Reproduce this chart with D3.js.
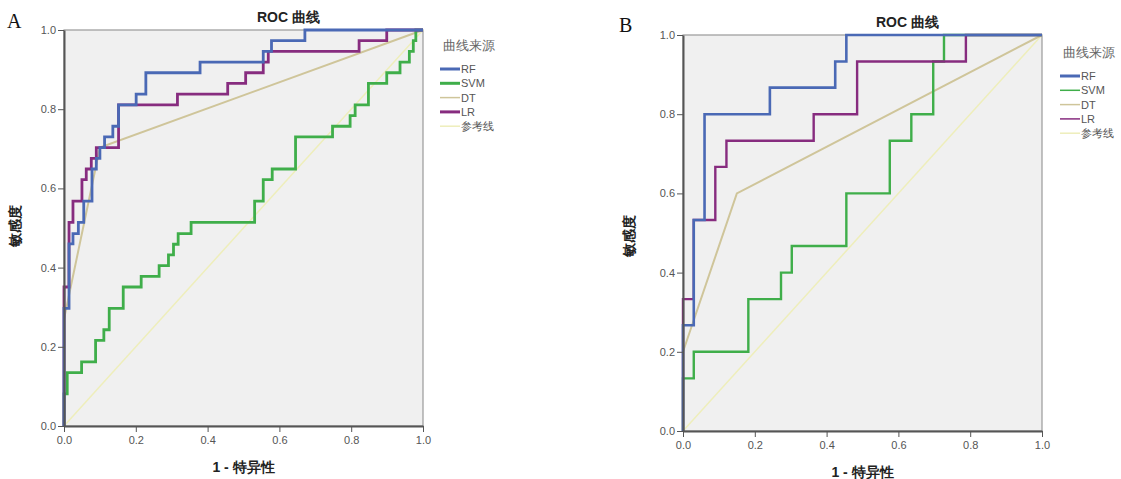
<!DOCTYPE html>
<html>
<head>
<meta charset="utf-8">
<title>ROC 曲线</title>
<style>
  body { margin: 0; background: #fff; }
  svg { display: block; font-family: "Liberation Sans", Arial, sans-serif; }
  .tick text { fill: #555; font-size: 11px; }
  .axis path, .axis line { stroke: #555; }
</style>
</head>
<body>
<script src="https://cdn.jsdelivr.net/npm/d3@7"></script>
<script>
// ROC points (1 - specificity, sensitivity)
// panel A
var a_rf_fpr  = [0, 0, 0.014, 0.025, 0.04, 0.055, 0.078, 0.09, 0.1, 0.113, 0.136, 0.152, 0.201, 0.228, 0.379, 0.555, 0.578, 0.671, 1];
var a_rf_tpr  = [0, 0.297, 0.46, 0.486, 0.514, 0.568, 0.649, 0.676, 0.703, 0.73, 0.757, 0.811, 0.838, 0.892, 0.919, 0.946, 0.973, 1, 1];
var a_svm_fpr = [0, 0, 0.009, 0.049, 0.088, 0.111, 0.126, 0.165, 0.215, 0.265, 0.291, 0.305, 0.318, 0.354, 0.531, 0.555, 0.58, 0.645, 0.748, 0.797, 0.811, 0.848, 0.899, 0.936, 0.962, 0.973, 0.98, 1];
var a_svm_tpr = [0, 0.081, 0.135, 0.162, 0.216, 0.243, 0.297, 0.351, 0.378, 0.405, 0.432, 0.459, 0.486, 0.514, 0.568, 0.622, 0.649, 0.73, 0.757, 0.784, 0.811, 0.865, 0.892, 0.919, 0.946, 0.973, 1, 1];
var a_dt_fpr  = [0, 0, 0.1, 1];
var a_dt_tpr  = [0, 0.27, 0.703, 1];
var a_lr_fpr  = [0, 0, 0.014, 0.025, 0.05, 0.062, 0.076, 0.09, 0.152, 0.316, 0.456, 0.506, 0.555, 0.569, 0.822, 0.899, 1];
var a_lr_tpr  = [0, 0.351, 0.514, 0.568, 0.622, 0.649, 0.676, 0.703, 0.811, 0.838, 0.865, 0.892, 0.919, 0.946, 0.973, 1, 1];

// panel B
var b_rf_fpr  = [0, 0, 0.03, 0.06, 0.242, 0.424, 0.455, 1];
var b_rf_tpr  = [0, 0.267, 0.533, 0.8, 0.867, 0.933, 1, 1];
var b_svm_fpr = [0, 0, 0.03, 0.182, 0.273, 0.303, 0.455, 0.576, 0.636, 0.697, 0.727, 1];
var b_svm_tpr = [0, 0.133, 0.2, 0.333, 0.4, 0.467, 0.6, 0.733, 0.8, 0.933, 1, 1];
var b_dt_fpr  = [0, 0, 0.15, 1];
var b_dt_tpr  = [0, 0.2, 0.6, 1];
var b_lr_fpr  = [0, 0, 0.03, 0.09, 0.121, 0.364, 0.485, 0.788, 1];
var b_lr_tpr  = [0, 0.333, 0.533, 0.667, 0.733, 0.8, 0.933, 1, 1];

var ref_fpr = [0, 1];
var ref_tpr = [0, 1];

var legendNames = ["RF", "SVM", "DT", "LR", "参考线"];
var ticks = [0, 0.2, 0.4, 0.6, 0.8, 1.0];

var colors = {RF: "#4a69b5", SVM: "#3fae4a", DT: "#cfc59a", LR: "#872c7f", "参考线": "#eeeebb"};

var svg = d3.select("body").append("svg")
    .attr("width", 1121)
    .attr("height", 479);

function pts(fx, ty) {
  return fx.map(function(d, i) { return [d, ty[i]]; });
}

function drawPanel(p) {
  var x = d3.scaleLinear().domain([0, 1]).range([p.left, p.right]);
  var y = d3.scaleLinear().domain([0, 1]).range([p.bottom, p.top]);

  // plot background + frame
  svg.append("rect")
     .attr("x", p.left).attr("y", p.top)
     .attr("width", p.right - p.left).attr("height", p.bottom - p.top)
     .attr("fill", "#f0f0f0")
     .attr("stroke", "#999").attr("stroke-width", 1.2);

  var stepLine = d3.line().x(function(d) { return x(d[0]); }).y(function(d) { return y(d[1]); })
                   .curve(d3.curveStepAfter);
  var straight = d3.line().x(function(d) { return x(d[0]); }).y(function(d) { return y(d[1]); });

  // draw order roughly like the SPSS output
  var series = [
    {name: "参考线", d: pts(ref_fpr, ref_tpr), line: straight, w: 1.5},
    {name: "DT",  d: p.dt,  line: straight, w: 2},
    {name: "SVM", d: p.svm, line: stepLine, w: p.w.SVM},
    {name: "LR",  d: p.lr,  line: stepLine, w: p.w.LR},
    {name: "RF",  d: p.rf,  line: stepLine, w: p.w.RF}
  ];

  svg.append("g").selectAll("path")
     .data(series)
     .enter().append("path")
     .attr("d", function(s) { return s.line(s.d); })
     .attr("fill", "none")
     .attr("stroke", function(s) { return colors[s.name]; })
     .attr("stroke-width", function(s) { return s.w; });

  // axes
  var fmt = d3.format(".1f");
  svg.append("g")
     .attr("class", "axis")
     .attr("transform", "translate(0," + p.bottom + ")")
     .call(d3.axisBottom(x).tickValues(ticks).tickFormat(fmt).tickSize(6).tickPadding(4).tickSizeOuter(0))
     .call(function(g) { g.select(".domain").attr("stroke-width", 2); });

  svg.append("g")
     .attr("class", "axis")
     .attr("transform", "translate(" + p.left + ",0)")
     .call(d3.axisLeft(y).tickValues(ticks).tickFormat(fmt).tickSize(6).tickPadding(2).tickSizeOuter(0))
     .call(function(g) { g.select(".domain").attr("stroke-width", 2); });

  // titles
  svg.append("text")
     .attr("x", (p.left + p.right) / 2 + 45).attr("y", p.top - 8)
     .attr("text-anchor", "middle")
     .attr("font-size", "14px").attr("font-weight", "bold").attr("fill", "#222")
     .text("ROC 曲线");

  svg.append("text")
     .attr("x", (p.left + p.right) / 2).attr("y", p.bottom + 46)
     .attr("text-anchor", "middle")
     .attr("font-size", "14px").attr("font-weight", "bold").attr("fill", "#222")
     .text("1 - 特异性");

  svg.append("text")
     .attr("transform", "translate(" + p.yLabelX + "," + p.yLabelY + ") rotate(-90)")
     .attr("text-anchor", "middle")
     .attr("font-size", "14px").attr("font-weight", "bold").attr("fill", "#222")
     .text("敏感度");

  svg.append("text")
     .attr("x", p.tagX).attr("y", p.tagY)
     .attr("font-family", "'Liberation Serif', 'DejaVu Serif', serif")
     .attr("font-size", "20px").attr("fill", "#111")
     .text(p.tag);

  // legend
  var lg = svg.append("g").attr("transform", "translate(" + p.legX + "," + p.legY + ")");
  lg.append("text")
    .attr("x", 3).attr("y", 0)
    .attr("font-size", "13px").attr("fill", "#666")
    .text("曲线来源");
  var item = lg.selectAll(".item")
    .data(legendNames)
    .enter().append("g")
    .attr("class", "item")
    .attr("transform", function(d, i) { return "translate(0," + (19 + i * 14.3) + ")"; });
  item.append("line")
    .attr("x1", 0).attr("x2", 20)
    .attr("stroke", function(d) { return colors[d]; })
    .attr("stroke-width", function(d) { return p.legW[d]; });
  item.append("text")
    .attr("x", 21).attr("y", 4)
    .attr("font-size", "11px").attr("fill", "#555")
    .text(function(d) { return d; });
}

drawPanel({
  tag: "A", tagX: 7, tagY: 28,
  left: 64, right: 423, top: 30, bottom: 426,
  yLabelX: 20, yLabelY: 226,
  legX: 440, legY: 50,
  rf: pts(a_rf_fpr, a_rf_tpr), svm: pts(a_svm_fpr, a_svm_tpr),
  dt: pts(a_dt_fpr, a_dt_tpr), lr: pts(a_lr_fpr, a_lr_tpr),
  w: {RF: 2.8, SVM: 2.8, LR: 2.8},
  legW: {RF: 3, SVM: 3, DT: 1.5, LR: 3, "参考线": 1.5}
});

drawPanel({
  tag: "B", tagX: 619, tagY: 32,
  left: 683, right: 1042, top: 35, bottom: 431,
  yLabelX: 634, yLabelY: 236,
  legX: 1060, legY: 57,
  rf: pts(b_rf_fpr, b_rf_tpr), svm: pts(b_svm_fpr, b_svm_tpr),
  dt: pts(b_dt_fpr, b_dt_tpr), lr: pts(b_lr_fpr, b_lr_tpr),
  w: {RF: 2.6, SVM: 2.4, LR: 2.4},
  legW: {RF: 3, SVM: 1.5, DT: 1.5, LR: 1.5, "参考线": 1.5}
});
</script>
</body>
</html>
